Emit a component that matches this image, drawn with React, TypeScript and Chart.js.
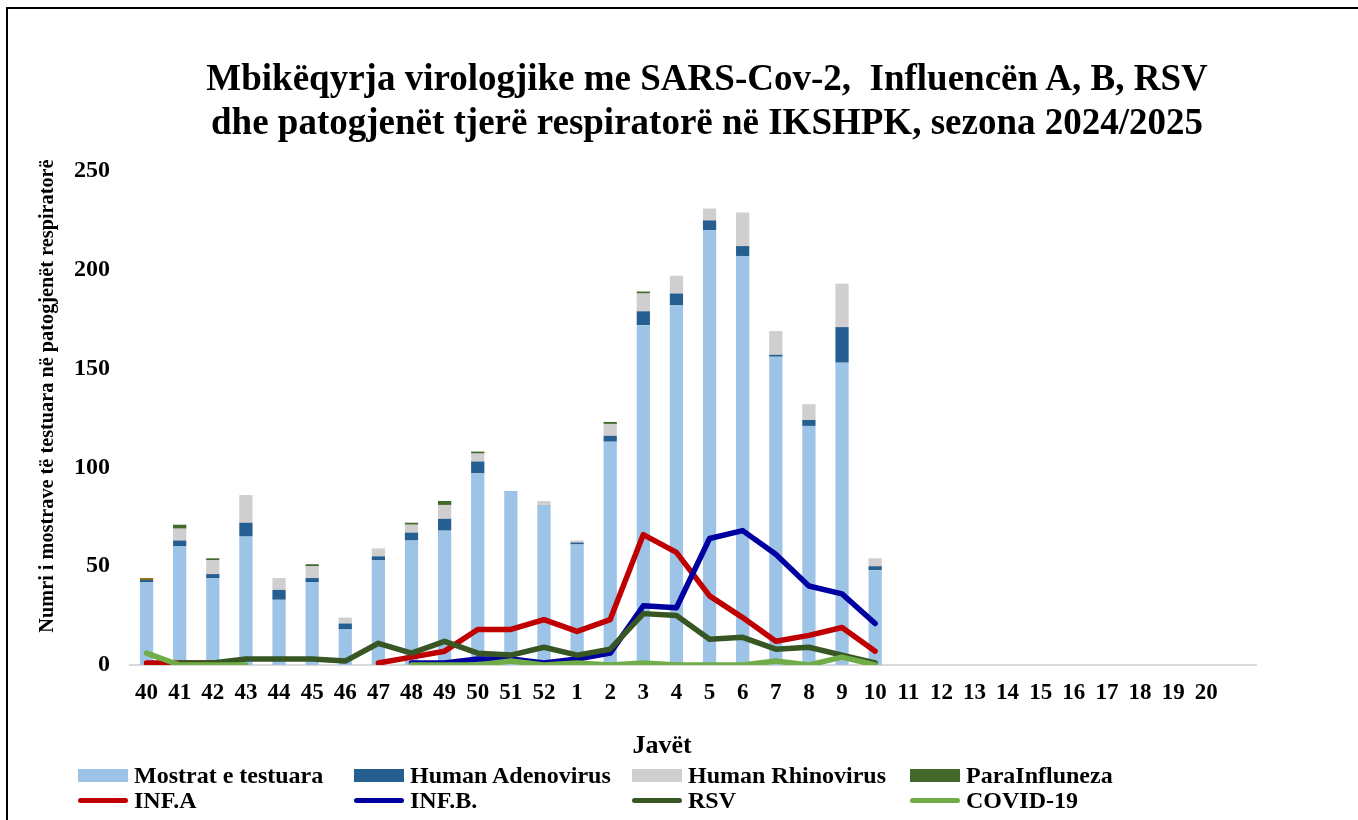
import React, { useEffect, useRef } from 'react';
import { Chart, registerables } from 'chart.js';

Chart.register(...registerables);

const weeks = ['40','41','42','43','44','45','46','47','48','49','50','51','52','1','2','3','4','5','6','7','8','9','10','11','12','13','14','15','16','17','18','19','20',''];

const mostrat = [42,60,44,65,33,42,18,53,63,68,97,88,81,61,113,172,182,220,207,156,121,153,48];
const adenovirus = [1,3,2,7,5,2,3,2,4,6,6,0,0,1,3,7,6,5,5,1,3,18,2];
const rhinovirus = [0,6,7,14,6,6,3,4,4,7,4,0,2,1,6,9,9,6,17,12,8,22,4];
const parainfluenza = [0,2,1,0,0,1,0,0,1,2,1,0,0,0,1,1,0,0,0,0,0,0,0];
const tjeter = [1,0,0,0,0,0,0,0,0,0,0,0,0,0,0,0,0,0,0,0,0,0,0];

const infA = [1,1,1,null,null,null,null,1,4,7,18,18,23,17,23,66,57,35,24,12,15,19,7];
const infB = [null,null,null,null,null,null,null,null,1,1,3,3,1,3,6,30,29,64,68,56,40,36,21];
const rsv = [null,1,1,3,3,3,2,11,6,12,6,5,9,5,8,26,25,13,14,8,9,5,1];
const covid = [6,0,0,0,null,null,null,null,0,0,0,2,0,1,0,1,0,0,0,2,0,4,0];

const yTicks = [0, 50, 100, 150, 200, 250];

const COLORS = {
  mostrat: '#9DC3E6',
  adeno: '#255E91',
  rhino: '#D0CECE',
  para: '#43682B',
  tjeter: '#8B6D12',
  infA: '#C00000',
  infB: '#0000A0',
  rsv: '#375623',
  covid: '#70AD47',
};

const legendItems = [
  { label: 'Mostrat e testuara', color: COLORS.mostrat, kind: 'box' },
  { label: 'Human Adenovirus', color: COLORS.adeno, kind: 'box' },
  { label: 'Human Rhinovirus', color: COLORS.rhino, kind: 'box' },
  { label: 'ParaInfluneza', color: COLORS.para, kind: 'box' },
  { label: 'INF.A', color: COLORS.infA, kind: 'line' },
  { label: 'INF.B.', color: COLORS.infB, kind: 'line' },
  { label: 'RSV', color: COLORS.rsv, kind: 'line' },
  { label: 'COVID-19', color: COLORS.covid, kind: 'line' },
];

const SERIF = "'Liberation Serif', 'Times New Roman', serif";

export default function App() {
  const canvasRef = useRef<HTMLCanvasElement | null>(null);

  useEffect(() => {
    if (!canvasRef.current) return;
    const bar = (label: string, data: number[], color: string) => ({
      type: 'bar' as const,
      label,
      data,
      backgroundColor: color,
      borderWidth: 0,
      stack: 'bars',
      order: 10,
      barPercentage: 0.4,
      categoryPercentage: 1,
    });
    const line = (label: string, data: (number | null)[], color: string, order: number) => ({
      type: 'line' as const,
      label,
      data,
      borderColor: color,
      backgroundColor: color,
      borderWidth: 5.5,
      pointRadius: 0,
      pointHoverRadius: 0,
      tension: 0,
      spanGaps: false,
      borderCapStyle: 'round' as const,
      borderJoinStyle: 'round' as const,
      fill: false,
      order,
    });

    const chart = new Chart(canvasRef.current, {
      type: 'bar',
      data: {
        labels: weeks,
        datasets: [
          bar('Mostrat e testuara', mostrat, COLORS.mostrat),
          bar('Human Adenovirus', adenovirus, COLORS.adeno),
          bar('Human Rhinovirus', rhinovirus, COLORS.rhino),
          bar('ParaInfluneza', parainfluenza, COLORS.para),
          bar('Tjetër', tjeter, COLORS.tjeter),
          line('INF.A', infA, COLORS.infA, 4),
          line('INF.B.', infB, COLORS.infB, 3),
          line('RSV', rsv, COLORS.rsv, 2),
          line('COVID-19', covid, COLORS.covid, 1),
        ] as any,
      },
      options: {
        animation: false,
        responsive: false,
        maintainAspectRatio: false,
        layout: { padding: { left: 0, right: 102, top: 171, bottom: 0 } },
        plugins: {
          legend: { display: false },
          title: { display: false },
          tooltip: { enabled: false },
        },
        scales: {
          x: {
            stacked: true,
            grid: { display: false, drawTicks: false },
            border: { display: true, color: '#D9D9D9', width: 2 },
            ticks: {
              autoSkip: false,
              maxRotation: 0,
              minRotation: 0,
              padding: 14,
              color: '#000',
              font: { family: SERIF, size: 23, weight: 'bold' },
            },
            afterFit: (s: any) => { s.height = 155; },
          },
          y: {
            min: 0,
            max: 250,
            grid: { display: false, drawTicks: false },
            border: { display: false },
            afterBuildTicks: (s: any) => { s.ticks = yTicks.map((v) => ({ value: v })); },
            ticks: {
              padding: 20,
              color: '#000',
              font: { family: SERIF, size: 24, weight: 'bold' },
            },
            afterFit: (s: any) => { s.width = 130; },
          },
        },
      },
    });
    return () => chart.destroy();
  }, []);

  const colX = [78, 354, 632, 910];
  const rowY = [775, 800];

  return (
    <div style={{ position: 'fixed', left: 0, top: 0, width: 1358, height: 820, overflow: 'hidden', background: '#fff', fontFamily: SERIF }}>
      <canvas ref={canvasRef} width={1358} height={820} style={{ position: 'absolute', left: 0, top: 0, width: 1358, height: 820 }} />
      <div style={{ position: 'absolute', left: 6, top: 7, width: 2000, height: 2000, border: '2px solid #000', boxSizing: 'border-box' }} />
      <div style={{ position: 'absolute', left: 0, top: 56, width: 1414, textAlign: 'center', fontSize: 37, fontWeight: 'bold', lineHeight: '44px', color: '#000', whiteSpace: 'pre' }}>
        <div>{'Mbikëqyrja virologjike me SARS-Cov-2,  Influencën A, B, RSV'}</div>
        <div>{'dhe patogjenët tjerë respiratorë në IKSHPK, sezona 2024/2025'}</div>
      </div>
      <div style={{ position: 'absolute', left: 46 - 300, top: 396 - 12, width: 600, height: 24, lineHeight: '24px', textAlign: 'center', transform: 'rotate(-90deg)', transformOrigin: '50% 50%', fontSize: 20.3, fontWeight: 'bold', whiteSpace: 'nowrap', color: '#000' }}>
        Numri i mostrave të testuara në patogjenët respiratorë
      </div>
      <div style={{ position: 'absolute', left: 662 - 100, top: 745 - 15, width: 200, height: 30, lineHeight: '30px', textAlign: 'center', fontSize: 26, fontWeight: 'bold', color: '#000' }}>
        Javët
      </div>
      {legendItems.map((it, i) => {
        const x = colX[i % 4];
        const y = rowY[Math.floor(i / 4)];
        return (
          <div key={it.label} style={{ position: 'absolute', left: x, top: y - 13, height: 26, display: 'flex', alignItems: 'center', whiteSpace: 'nowrap' }}>
            {it.kind === 'box' ? (
              <span style={{ display: 'inline-block', width: 50, height: 13, background: it.color }} />
            ) : (
              <span style={{ display: 'inline-block', width: 50, height: 5, borderRadius: 3, background: it.color }} />
            )}
            <span style={{ marginLeft: 6, fontSize: 24, fontWeight: 'bold', color: '#000', lineHeight: '26px' }}>{it.label}</span>
          </div>
        );
      })}
    </div>
  );
}
